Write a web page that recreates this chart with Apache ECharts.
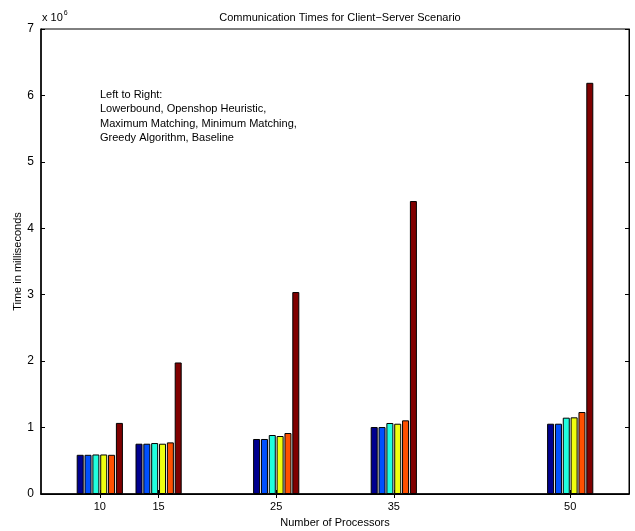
<!DOCTYPE html>
<html>
<head>
<meta charset="utf-8">
<title>Communication Times</title>
<script src="https://cdn.jsdelivr.net/npm/echarts@6/dist/echarts.min.js"></script>
<style>
  html, body { margin: 0; padding: 0; background: #fff; }
  #chart { width: 635px; height: 531px; }
</style>
</head>
<body>
<div id="chart"></div>
<script>
// number of processors (x positions)
const processors = [10, 15, 25, 35, 50]
const yTicks = [0, 1, 2, 3, 4, 5, 6, 7]

// times in units of 1e6 ms
const lowerbound = [0.59, 0.757, 0.828, 1.008, 1.058]
const openshop = [0.59, 0.757, 0.828, 1.008, 1.058]
const maxMatching = [0.595, 0.767, 0.888, 1.069, 1.149]
const minMatching = [0.595, 0.757, 0.873, 1.058, 1.154]
const greedy = [0.59, 0.777, 0.918, 1.109, 1.234]
const baseline = [1.07, 1.98, 3.04, 4.41, 6.19]

const seriesList = [
  { name: 'Lowerbound', values: lowerbound },
  { name: 'Openshop Heuristic', values: openshop },
  { name: 'Maximum Matching', values: maxMatching },
  { name: 'Minimum Matching', values: minMatching },
  { name: 'Greedy Algorithm', values: greedy },
  { name: 'Baseline', values: baseline }
]
const colors = ['#00008f', '#0050ff', '#20ffdf', '#efff10', '#ff5000', '#800000']

const font = 'Liberation Sans, Arial, sans-serif'

const chart = echarts.init(document.getElementById('chart'))

chart.setOption({
  animation: false,
  color: colors,
  textStyle: { fontFamily: font },
  title: {
    text: 'Communication Times for Client\u2212Server Scenario',
    left: 335,
    textAlign: 'center',
    top: 7,
    textStyle: { fontSize: 11, fontWeight: 'normal', color: '#000', fontFamily: font }
  },
  grid: {
    left: 41,
    right: 6,
    top: 29,
    bottom: 37,
    outerBoundsMode: 'none',
    containLabel: false,
    show: true,
    borderColor: '#000',
    borderWidth: 1
  },
  xAxis: [{
    type: 'value',
    min: 5,
    max: 55,
    name: 'Number of Processors',
    nameLocation: 'middle',
    nameGap: 23,
    nameMoveOverlap: false,
    nameTextStyle: { fontSize: 11, color: '#000' },
    axisLine: { show: true, lineStyle: { color: '#000', width: 1.5 } },
    axisTick: { inside: true, length: 4, customValues: processors, lineStyle: { color: '#000' } },
    axisLabel: { customValues: processors, fontSize: 11, color: '#000', margin: 7 },
    splitLine: { show: false }
  }, {
    type: 'value',
    position: 'top',
    min: 5,
    max: 55,
    axisLine: { show: true, lineStyle: { color: '#000' } },
    axisTick: { inside: true, length: 4, customValues: processors, lineStyle: { color: '#000' } },
    axisLabel: { show: false },
    splitLine: { show: false }
  }],
  yAxis: [{
    type: 'value',
    min: 0,
    max: 7,
    interval: 1,
    name: 'Time in milliseconds',
    nameLocation: 'middle',
    nameGap: 18,
    nameMoveOverlap: false,
    nameTextStyle: { fontSize: 11, color: '#000' },
    axisLine: { show: true, lineStyle: { color: '#000', width: 1.5 } },
    axisTick: { inside: true, length: 4, lineStyle: { color: '#000' } },
    axisLabel: { fontSize: 12, color: '#000', margin: 7 },
    splitLine: { show: false }
  }, {
    type: 'value',
    position: 'right',
    min: 0,
    max: 7,
    interval: 1,
    axisLine: { show: true, lineStyle: { color: '#000' } },
    axisTick: { inside: true, length: 4, lineStyle: { color: '#000' } },
    axisLabel: { show: false },
    splitLine: { show: false }
  }],
  graphic: [{
    type: 'text',
    left: 42,
    top: 10,
    style: {
      text: '{b|x 10}{s|6}',
      rich: {
        b: { fontSize: 11, fontFamily: font, fill: '#000', verticalAlign: 'bottom' },
        s: { fontSize: 7, fontFamily: font, fill: '#000', verticalAlign: 'top', padding: [0, 0, 6, 1] }
      }
    }
  }, {
    type: 'text',
    left: 100,
    top: 88,
    style: {
      text: 'Left to Right:\nLowerbound, Openshop Heuristic,\nMaximum Matching, Minimum Matching,\nGreedy Algorithm, Baseline',
      fontSize: 11,
      lineHeight: 14.3,
      fontFamily: font,
      fill: '#000'
    }
  }],
  series: seriesList.map(s => ({
    name: s.name,
    type: 'bar',
    xAxisIndex: 0,
    yAxisIndex: 0,
    barWidth: 7,
    barGap: '12%',
    itemStyle: { borderColor: '#000', borderWidth: 1 },
    data: processors.map((p, i) => [p, s.values[i]])
  }))
})
</script>
</body>
</html>
